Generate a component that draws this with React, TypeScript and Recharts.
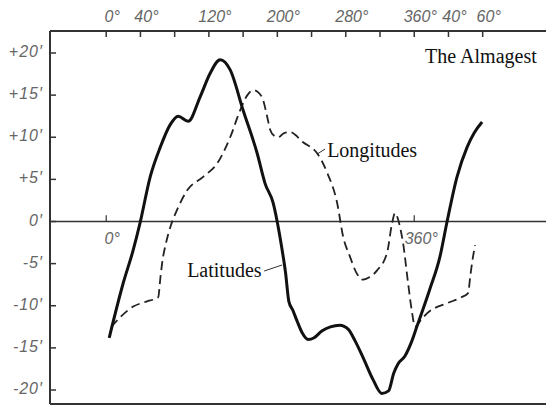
import React from 'react';
import { LineChart, Line, XAxis, YAxis, ReferenceLine, ReferenceDot } from 'recharts';

// Latitudes (solid curve): anomaly in degrees, deviation in arc-minutes
const latitudeDeg = [3.5, 19.9, 31.5, 39.7, 51.4, 63.1, 74.8, 84.1, 95.8, 109.8, 121.5, 133.2, 144.9, 160.0, 176.4, 185.7, 195.1, 199.8, 205, 209.5, 213.5, 218, 223, 229, 236, 243, 252, 262, 273, 283, 291, 300, 312, 322, 330, 336, 341, 349, 356, 363, 378, 390, 398.4, 410, 421.7, 430, 439.3];
const latitudeMin = [-13.8, -7.3, -3.4, -0.1, 5.3, 8.8, 11.5, 12.5, 11.9, 14.8, 17.6, 19.2, 18.0, 13.2, 8.1, 4.5, 2.2, 0, -3, -6, -9.5, -10.5, -11.8, -13.2, -14.0, -13.8, -13.0, -12.5, -12.3, -12.8, -14.2, -16.1, -18.8, -20.4, -20.1, -18.0, -16.9, -16.0, -14.5, -12.5, -8.1, -4.2, 0, 5.3, 8.8, 10.5, 11.8];

// Longitudes (dashed curve)
const longitudeDeg = [5.8, 18, 31.5, 47, 60.7, 63.5, 65.4, 70, 74.8, 82.9, 94.6, 113.3, 129.7, 144.9, 156.5, 165, 171.7, 178, 183.4, 188, 191.6, 196, 201, 208, 215, 230.1, 246.5, 258.2, 269.9, 276.9, 285.0, 292, 300.2, 308, 316.6, 328.3, 334.1, 337.6, 341, 343.5, 347, 352.8, 357, 361.0, 367, 375.0, 398.4, 415, 422.9, 425.5, 427.6, 431.1];
const longitudeMin = [-12.5, -11.2, -10.1, -9.5, -9.0, -6.5, -4.9, -2.5, -0.7, 1.4, 3.7, 5.3, 6.9, 10.0, 13.2, 15.0, 15.6, 15.3, 14.4, 12.5, 10.9, 10.2, 10.0, 10.5, 10.6, 9.4, 8.1, 5.8, 2.2, -1.8, -4.2, -6.0, -6.9, -6.6, -5.8, -3.7, -0.2, 1.0, 0.3, -0.7, -2.6, -7.3, -10.5, -12.5, -11.8, -10.9, -9.7, -9.0, -8.5, -6.5, -4.9, -2.8];

const topTicks = [0, 40, 80, 120, 160, 200, 240, 280, 320, 360, 400, 440];
const topTickLabels = ['0°', '40°', '', '120°', '', '200°', '', '280°', '', '360°', '40°', '60°'];
const yTicks = [20, 15, 10, 5, 0, -5, -10, -15, -20];
const yTickLabels = ['+20′', '+15′', '+10′', '+5′', '0′', '-5′', '-10′', '-15′', '-20′'];

const X_MIN = -65.7;
const X_MAX = 514;
const Y_MIN = -21.66;
const Y_MAX = 22.61;

const latitudes = latitudeDeg.map((x, i) => ({ x, y: latitudeMin[i] }));
const longitudes = longitudeDeg.map((x, i) => ({ x, y: longitudeMin[i] }));

const tickFont = {
  fontFamily: '"Liberation Sans", Arial, sans-serif',
  fontStyle: 'italic' as const,
  fontSize: 16,
  fill: '#666',
};

const TopTick = (props: any) => {
  const { x, y, index } = props;
  return (
    <g>
      <line x1={x} y1={y} x2={x} y2={y + 6} stroke="#333" strokeWidth={1.5} />
      <text x={x + 6} y={y - 9} textAnchor="middle" {...tickFont}>
        {topTickLabels[index]}
      </text>
    </g>
  );
};

const LeftTick = (props: any) => {
  const { x, y, index } = props;
  return (
    <g>
      <line x1={x} y1={y} x2={x + 6} y2={y} stroke="#333" strokeWidth={1.5} />
      <text x={x - 7} y={y + 4} textAnchor="end" letterSpacing={1} {...tickFont}>
        {yTickLabels[index]}
      </text>
    </g>
  );
};

const Annot = (props: any) => {
  const vb = props.viewBox || {};
  const cx = (vb.x ?? 0) + (vb.width ?? 0) / 2;
  const cy = (vb.y ?? 0) + (vb.height ?? 0) / 2;
  const serif = props.serif;
  return (
    <text
      x={cx + (props.shiftX || 0)}
      y={cy + (props.shiftY || 0)}
      textAnchor={props.anchor || 'start'}
      fontFamily={serif ? '"Liberation Serif", "Times New Roman", serif' : '"Liberation Sans", Arial, sans-serif'}
      fontStyle={serif ? 'normal' : 'italic'}
      fontSize={serif ? 20 : 16}
      fill={serif ? '#111' : '#666'}
    >
      {props.text}
    </text>
  );
};

export default function App() {
  return (
    <div style={{ position: 'absolute', left: 0, top: 0, background: '#fff' }}>
      <LineChart width={546} height={405} margin={{ top: 0, right: 0, bottom: 1, left: 0 }}>
        <XAxis
          dataKey="x"
          type="number"
          orientation="top"
          domain={[X_MIN, X_MAX]}
          allowDataOverflow
          ticks={topTicks}
          interval={0}
          height={31}
          tickSize={0}
          tickMargin={0}
          tickLine={false}
          tick={<TopTick />}
          axisLine={{ stroke: '#333', strokeWidth: 2 }}
        />
        <YAxis
          type="number"
          domain={[Y_MIN, Y_MAX]}
          allowDataOverflow
          ticks={yTicks}
          interval={0}
          width={50}
          tickSize={0}
          tickMargin={0}
          tickLine={false}
          tick={<LeftTick />}
          axisLine={{ stroke: '#333', strokeWidth: 2 }}
        />
        <ReferenceLine y={0} stroke="#333" strokeWidth={1.6} />
        <ReferenceLine y={Y_MIN} stroke="#333" strokeWidth={2} />
        <ReferenceLine segment={[{ x: 0, y: 0 }, { x: 0, y: 0.75 }]} stroke="#333" strokeWidth={1.2} />
        <ReferenceLine segment={[{ x: 360, y: 0 }, { x: 360, y: 0.75 }]} stroke="#333" strokeWidth={1.2} />
        <ReferenceLine segment={[{ x: 246.5, y: 8.0 }, { x: 255.8, y: 8.6 }]} stroke="#333" strokeWidth={1} />
        <ReferenceLine segment={[{ x: 184.6, y: -5.88 }, { x: 205.6, y: -5.16 }]} stroke="#333" strokeWidth={1} />
        <Line
          data={longitudes}
          dataKey="y"
          type="monotone"
          stroke="#222"
          strokeWidth={1.8}
          strokeDasharray="9 5"
          dot={false}
          activeDot={false}
          isAnimationActive={false}
        />
        <Line
          data={latitudes}
          dataKey="y"
          type="monotone"
          stroke="#111"
          strokeWidth={3}
          dot={false}
          activeDot={false}
          isAnimationActive={false}
        />
        <ReferenceDot x={0} y={0} r={0} fill="none" stroke="none" label={<Annot text="0°" anchor="middle" shiftX={6} shiftY={22} />} />
        <ReferenceDot x={360} y={0} r={0} fill="none" stroke="none" label={<Annot text="360°" anchor="middle" shiftX={7} shiftY={22} />} />
        <ReferenceDot x={258.2} y={7.66} r={0} fill="none" stroke="none" label={<Annot text="Longitudes" serif />} />
        <ReferenceDot x={94.6} y={-6.59} r={0} fill="none" stroke="none" label={<Annot text="Latitudes" serif />} />
        <ReferenceDot x={372.7} y={18.8} r={0} fill="none" stroke="none" label={<Annot text="The Almagest" serif />} />
      </LineChart>
    </div>
  );
}
